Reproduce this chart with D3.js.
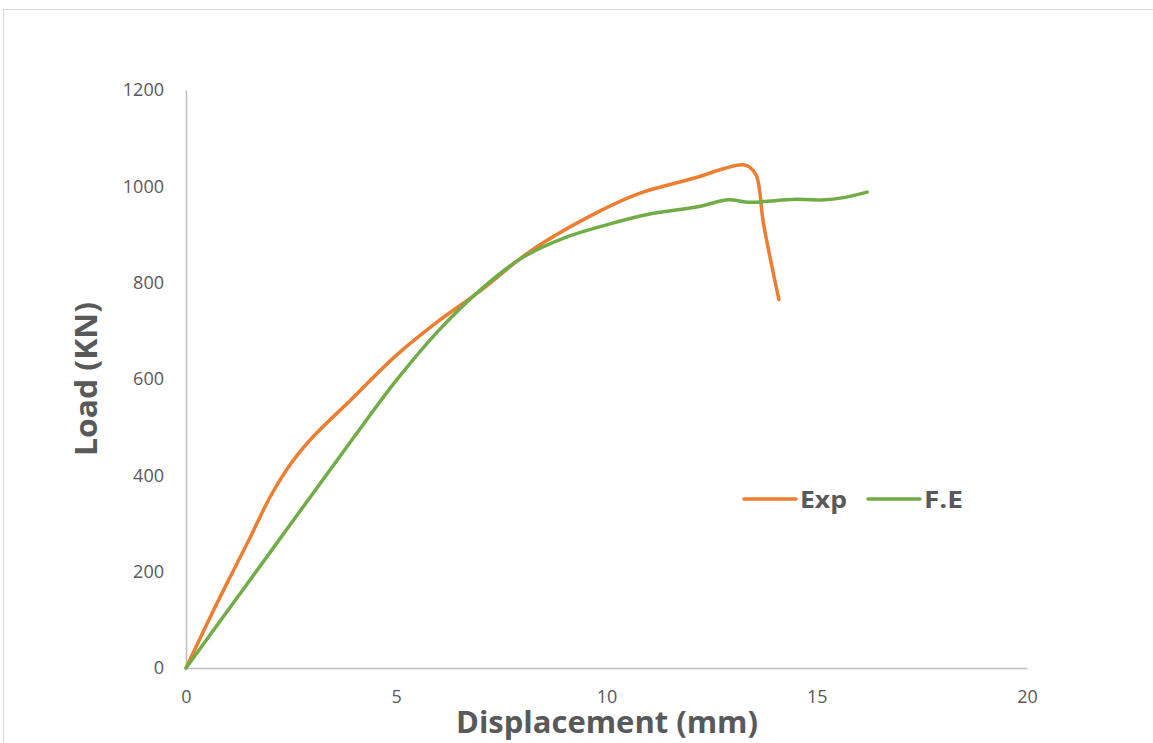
<!DOCTYPE html>
<html>
<head>
<meta charset="utf-8">
<script src="https://cdn.jsdelivr.net/npm/d3@7"></script>
<style>
  body { margin: 0; background: #fff; }
  text { font-family: "Open Sans", "Noto Sans", sans-serif; fill: #595959; }
</style>
</head>
<body>
<div id="chart"></div>
<script>
// data (displacement mm, load KN)
var expDisp = [0, 0.6, 1.05, 1.52, 2.0, 2.5, 3.0, 3.9, 5.0, 6.0, 7.0, 8.2, 9.85, 10.8, 12.2, 12.8, 13.3, 13.55, 13.65, 13.72, 14.1];
var expLoad = [0, 110, 189, 270, 355, 425, 478, 555, 649, 720, 783, 866, 949, 986, 1020, 1037, 1044, 1025, 985, 930, 765];

var feDisp = [0, 2.0, 4.0, 5.0, 6.0, 7.0, 8.0, 9.0, 10.0, 11.0, 12.2, 12.9, 13.4, 14.5, 15.2, 15.6, 16.2];
var feLoad = [0, 240, 480, 597, 700, 785, 852, 893, 920, 942, 958, 972, 967, 973, 972, 976, 988];

var xTicks = [0, 5, 10, 15, 20];
var yTicks = [0, 200, 400, 600, 800, 1000, 1200];
var seriesNames = ["Exp", "F.E"];
var seriesColors = ["#ED7D31", "#70AD47"];

var W = 1153, H = 743;
var margin = {top: 90, right: 126, bottom: 75, left: 186};
var width = W - margin.left - margin.right,
    height = H - margin.top - margin.bottom;

var svg = d3.select("#chart").append("svg")
    .attr("width", W)
    .attr("height", H);

// chart frame
svg.append("rect")
    .attr("x", 3.5).attr("y", 9.5)
    .attr("width", W + 10).attr("height", H + 10)
    .attr("fill", "none")
    .attr("stroke", "#d9d9d9");

var g = svg.append("g")
    .attr("transform", "translate(" + margin.left + "," + margin.top + ")");

var x = d3.scaleLinear().domain([0, 20]).range([0, width]);
var y = d3.scaleLinear().domain([0, 1200]).range([height, 0]);

// axes
var xAxis = g.append("g")
    .attr("transform", "translate(0," + height + ")")
    .call(d3.axisBottom(x).tickValues(xTicks).tickFormat(d3.format("d")).tickSize(0).tickPadding(22));
var yAxis = g.append("g")
    .call(d3.axisLeft(y).tickValues(yTicks).tickFormat(d3.format("d")).tickSize(0).tickPadding(22));

[xAxis, yAxis].forEach(function(a) {
  a.select(".domain").attr("stroke", "#bfbfbf").attr("stroke-width", 1.5);
  a.selectAll("text")
      .style("font-size", "18px")
      .style("font-family", "'Open Sans', sans-serif")
      .attr("fill", "#595959");
});

// lines
var line = d3.line()
    .x(function(d) { return x(d[0]); })
    .y(function(d) { return y(d[1]); })
    .curve(d3.curveCatmullRom.alpha(0.5));

var expData = expDisp.map(function(d, i) { return [d, expLoad[i]]; });
var feData = feDisp.map(function(d, i) { return [d, feLoad[i]]; });

[expData, feData].forEach(function(data, i) {
  g.append("path")
      .datum(data)
      .attr("fill", "none")
      .attr("stroke", seriesColors[i])
      .attr("stroke-width", 3.5)
      .attr("stroke-linecap", "round")
      .attr("stroke-linejoin", "round")
      .attr("d", line);
});

// axis titles
svg.append("text")
    .attr("x", 607).attr("y", 733)
    .attr("text-anchor", "middle")
    .style("font-size", "31px")
    .style("font-weight", "bold")
    .attr("textLength", 302)
    .attr("lengthAdjust", "spacingAndGlyphs")
    .text("Displacement (mm)");

svg.append("text")
    .attr("transform", "translate(97,379) rotate(-90)")
    .attr("text-anchor", "middle")
    .style("font-size", "31px")
    .style("font-weight", "bold")
    .attr("textLength", 154)
    .attr("lengthAdjust", "spacingAndGlyphs")
    .text("Load (KN)");

// legend
var legendX = [744, 868];
seriesNames.forEach(function(name, i) {
  svg.append("line")
      .attr("x1", legendX[i]).attr("x2", legendX[i] + 52)
      .attr("y1", 499).attr("y2", 499)
      .attr("stroke", seriesColors[i])
      .attr("stroke-width", 3.5)
      .attr("stroke-linecap", "round");
  svg.append("text")
      .attr("x", legendX[i] + 56).attr("y", 508)
      .style("font-size", "24px")
      .style("font-weight", "bold")
      .attr("textLength", i === 0 ? 47 : 39)
      .attr("lengthAdjust", "spacingAndGlyphs")
      .text(name);
});
</script>
</body>
</html>
